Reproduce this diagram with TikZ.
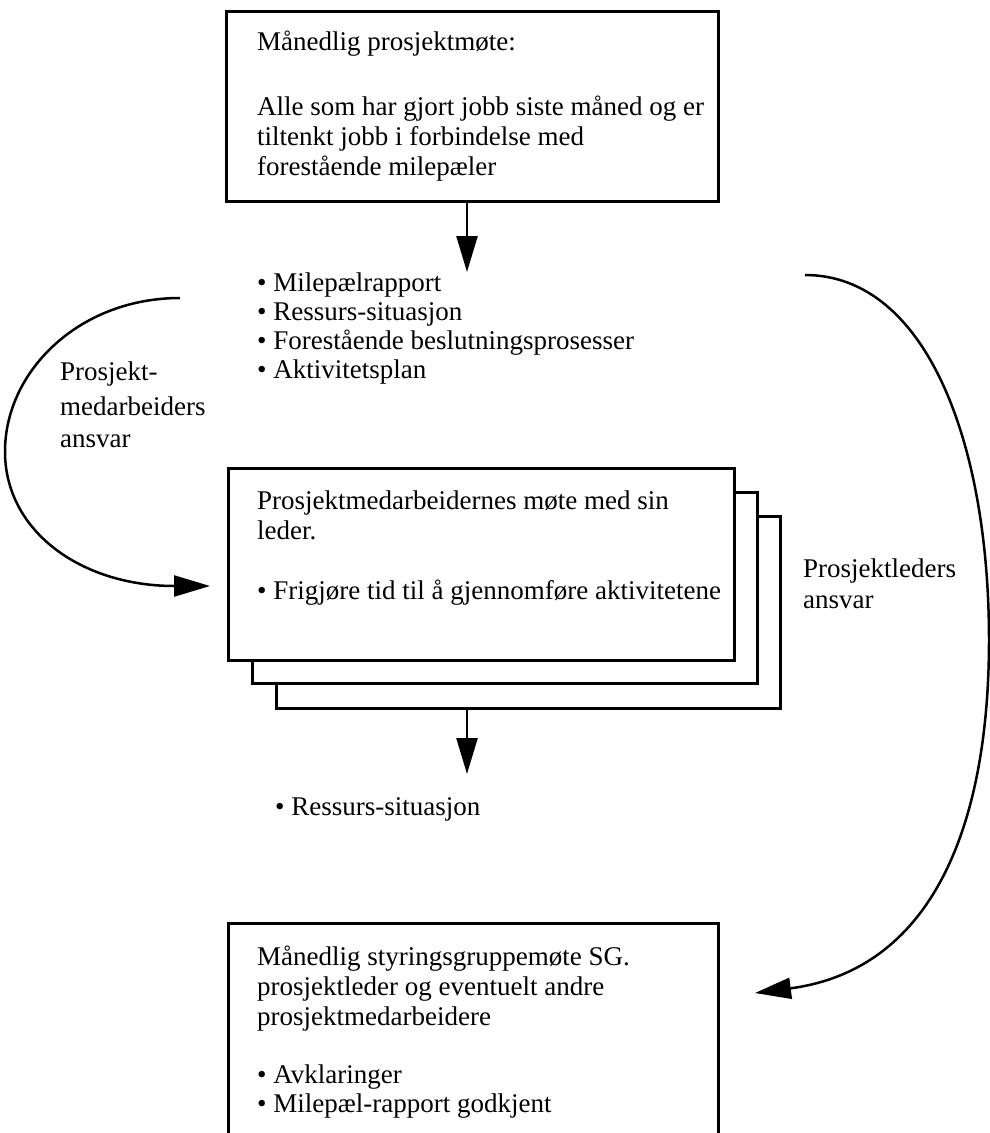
\documentclass[tikz,border=0pt]{standalone}
\usepackage{fontspec}
\setmainfont{Liberation Serif}
\usetikzlibrary{arrows.meta}
\begin{document}
\begin{tikzpicture}[x=1pt,y=-1pt,
  box/.style={draw, line width=2.8pt, fill=white, anchor=north west, inner sep=0pt},
  txt/.style={anchor=base west, inner sep=0pt, font=\fontsize{27}{30}\selectfont},
  arr/.style={line width=2.5pt, -{Triangle[length=36pt,width=21pt]}}]
\useasboundingbox (0,0) rectangle (990,1133);
\clip (0,0) rectangle (990,1133);

% top box
\node[box, minimum width=492pt, minimum height=190pt] (top) at (225,10) {};
\node[txt] (t1) at (257,50) {Månedlig prosjektmøte:};
\node[txt] (t2) at (257,115) {Alle som har gjort jobb siste måned og er};
\node[txt] (t3) at (257,145) {tiltenkt jobb i forbindelse med};
\node[txt] (t4) at (257,175) {forestående milepæler};

% arrow 1
\coordinate (a1) at (467,272);
\draw[arr] (top.south -| a1) -- (a1);

% list
\node[txt] (l1) at (257,291) {• Milepælrapport};
\node[txt] (l2) at (257,320) {• Ressurs-situasjon};
\node[txt] (l3) at (257,349) {• Forestående beslutningsprosesser};
\node[txt] (l4) at (257,378) {• Aktivitetsplan};

% stacked boxes
\node[box, minimum width=504pt, minimum height=192pt] (s3) at (275,515) {};
\node[box, minimum width=505pt, minimum height=191pt] (s2) at (251,491) {};
\node[box, minimum width=506pt, minimum height=192pt] (s1) at (227,467) {};
\node[txt] (m1) at (257,509) {Prosjektmedarbeidernes møte med sin};
\node[txt] (m2) at (257,539) {leder.};
\node[txt] (m3) at (257,599) {• Frigjøre tid til å gjennomføre aktivitetene};

% arrow 2
\coordinate (a2) at (467,774);
\draw[arr] (s3.south -| a2) -- (a2);
\node[txt] (r1) at (275,815) {• Ressurs-situasjon};

% bottom box
\node[box, minimum width=490pt, minimum height=240pt] (sg) at (227,922) {};
\node[txt] (b1) at (257,965) {Månedlig styringsgruppemøte SG.};
\node[txt] (b2) at (257,995) {prosjektleder og eventuelt andre};
\node[txt] (b3) at (257,1025) {prosjektmedarbeidere};
\node[txt] (b4) at (257,1083) {• Avklaringer};
\node[txt] (b5) at (257,1112) {• Milepæl-rapport godkjent};

% left curve
\coordinate (lc0) at (180,298);
\coordinate (lc1) at (210,586);
\draw[arr] (lc0) .. controls (80,298) and (6,370) .. (5,450)
  .. controls (4,530) and (80,586) .. (lc1);
\node[txt] (pl1) at (60,380) {Prosjekt-};
\node[txt] (pl2) at (60,415) {medarbeiders};
\node[txt] (pl3) at (60,447) {ansvar};

% right curve
\coordinate (rc0) at (805,275);
\coordinate (rc1) at (755,993);
\draw[arr] (rc0) .. controls (925,275) and (989,440) .. (989,640)
  .. controls (989,830) and (930,970) .. (rc1);
\node[txt] (pr1) at (803,577) {Prosjektleders};
\node[txt] (pr2) at (803,608) {ansvar};
\end{tikzpicture}
\end{document}
